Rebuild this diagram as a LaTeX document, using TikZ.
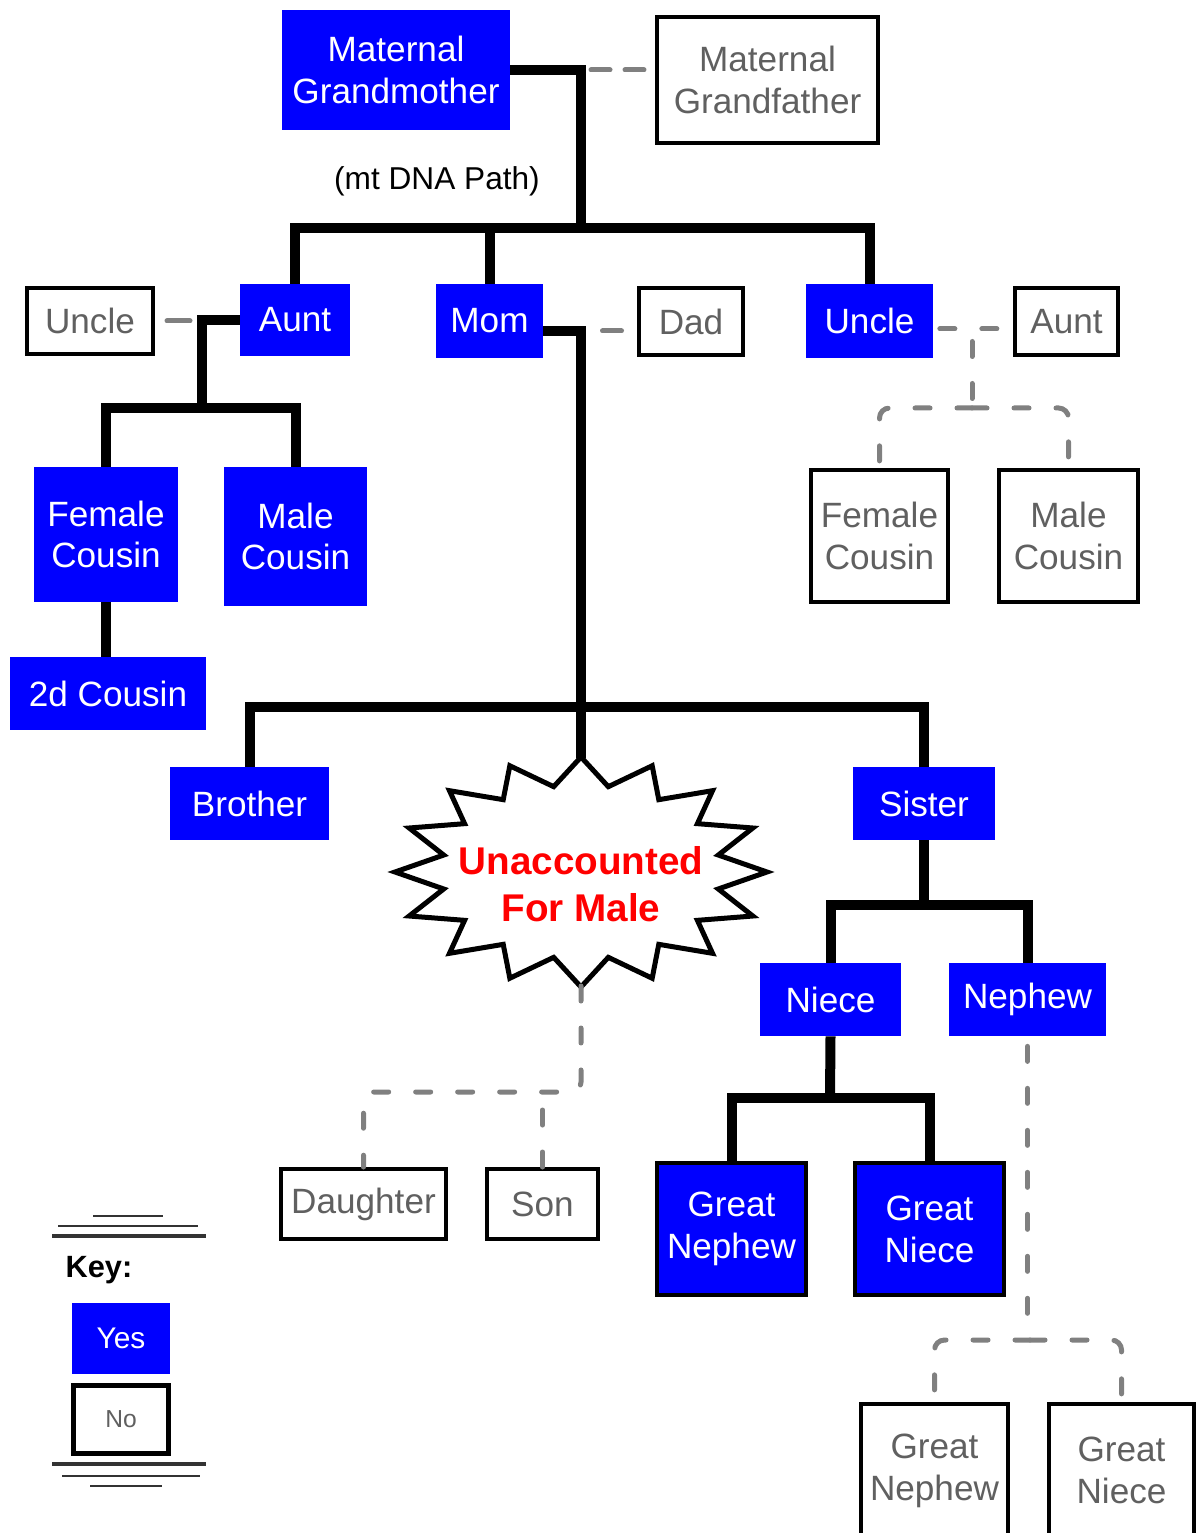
\documentclass[tikz,border=0pt]{standalone}
\usepackage{fontspec}
\setmainfont{Liberation Sans}
\usetikzlibrary{calc}
\definecolor{pureblue}{RGB}{0,0,255}
\definecolor{txtgray}{RGB}{96,96,96}
\definecolor{dashgray}{RGB}{128,128,128}
\definecolor{starred}{RGB}{255,0,0}
\newcommand\dgfont{\fontsize{20}{23.8}\selectfont}
\newcommand\bx[7]{\node[#1, minimum width={(#4-#2)*0.02cm}, minimum height={(#5-#3)*0.02cm}] (#6) at ({(#2+#4)/2},{(#3+#5)/2}) {#7};}
\tikzset{
  yes/.style={fill=pureblue, text=white},
  yesb/.style={yes, draw=black, line width=0.08cm},
  no/.style={fill=white, draw=black, line width=0.08cm, text=txtgray},
  conn/.style={line width=0.2cm, black, line join=miter},
  dashc/.style={line width=0.1cm, dashgray, line cap=round, dash pattern=on 0.3cm off 0.54cm},
  dashs/.style={line width=0.1cm, dashgray, line cap=round},
  starline/.style={line width=0.1cm, black, fill=white, line join=miter, miter limit=4},
  keyline/.style={black!80},
}
\begin{document}
\begin{tikzpicture}[x=0.02cm, y=-0.02cm, every node/.style={inner sep=0pt, align=center, font=\dgfont}]
\useasboundingbox (0,0) rectangle (1198,1533);
\fill[white] (0,0) rectangle (1198,1533);
\clip (0,0) rectangle (1198,1533);

% ---- coordinates
\coordinate (j1) at (581,228);
\coordinate (ja) at (202,408);
\coordinate (m1) at (581,331);
\coordinate (jm) at (581,707);
\coordinate (u1) at (972,329);
\coordinate (ju) at (972,408);
\coordinate (js) at (924,905);
\coordinate (jn) at (830,1098);
\coordinate (startop) at (581,758);
\coordinate (starbot) at (581,986);
\coordinate (jd) at (581,1092);
\coordinate (jp) at (1030,1340);

% ---- boxes
\bx{yes}{282}{10}{510}{130}{mgm}{Maternal\\Grandmother}
\bx{no}{657}{17}{878}{143}{mgf}{Maternal\\Grandfather}
\node[font=\fontsize{18}{21}\selectfont] (mtdna) at (437,181) {(mt DNA Path)};
\bx{no}{27}{288}{153}{354}{uncleL}{Uncle}
\bx{yes}{240}{284}{350}{356}{aunt}{Aunt}
\bx{yes}{436}{284}{543}{358}{mom}{Mom}
\bx{no}{639}{288}{743}{355}{dad}{Dad}
\bx{yes}{806}{284}{933}{358}{uncleR}{Uncle}
\bx{no}{1015}{288}{1118}{355}{auntR}{Aunt}
\bx{yes}{34}{467}{178}{602}{fcL}{Female\\Cousin}
\bx{yes}{224}{467}{367}{606}{mcL}{Male\\Cousin}
\bx{no}{811}{470}{948}{602}{fcR}{Female\\Cousin}
\bx{no}{999}{470}{1138}{602}{mcR}{Male\\Cousin}
\bx{yes}{10}{657}{206}{730}{cous2}{2d Cousin}
\bx{yes}{170}{767}{329}{840}{brother}{Brother}
\bx{yes}{853}{767}{995}{840}{sister}{Sister}
\bx{yes}{760}{963}{901}{1036}{niece}{Niece}
\bx{yes}{949}{963}{1106}{1036}{nephew}{Nephew}
\bx{no}{281}{1169}{446}{1239}{daughter}{Daughter}
\bx{no}{487}{1169}{598}{1239}{son}{Son}
\bx{yesb}{657}{1163}{806}{1295}{gnephB}{Great\\Nephew}
\bx{yesb}{855}{1163}{1004}{1295}{gnieceB}{Great\\Niece}
\bx{no}{861}{1404}{1008}{1537}{gnephW}{Great\\Nephew}
\bx{no}{1049}{1404}{1194}{1537}{gnieceW}{Great\\Niece}

% ---- star
\draw[starline] plot[samples at={0,...,31}, variable=\k]
  ({581+(163+23*cos(180*\k))*cos(90+11.25*\k)}, {872-(101+14*cos(180*\k))*sin(90+11.25*\k)}) -- cycle;
\node[text=starred, font=\fontsize{22}{26.6}\selectfont\bfseries] (unacc) at (581,884) {Unaccounted\\For Male};

% ---- solid connectors
\draw[conn] (mgm.east) -| (j1);
\draw[conn] (aunt.north) |- (j1) -| (uncleR.north);
\draw[conn] (mom.north) -- (mom.north |- j1);
\draw[conn] (aunt.west) -| (ja);
\draw[conn] (fcL.north) |- (ja) -| (mcL.north);
\draw[conn] (fcL.south) -- (fcL.south |- cous2.north);
\draw[conn] (m1 -| mom.east) -- (m1) -- (jm);
\draw[conn] (brother.north) |- (jm) -| (sister.north);
\draw[conn] (jm) -- (startop);
\draw[conn] (sister.south) -- (js);
\draw[conn] (niece.north) |- (js) -| (nephew.north);
\draw[conn] (niece.south) -- (jn);
\draw[conn] (gnephB.north) |- (jn) -| (gnieceB.north);

% ---- dashed connectors
\draw[dashs, dash pattern=on 0.38cm off 0.3cm, shorten <=0.2cm, shorten >=0.22cm] (mgm.east -| j1) -- (mgm.east -| mgf.west);
\draw[dashs, shorten <=0.24cm, shorten >=0.24cm] (uncleL.east) -- (uncleL.east -| ja);
\draw[dashs, shorten <=0.43cm, shorten >=0.31cm] (m1) -- (m1 -| dad.west);
\draw[dashc, shorten <=0.13cm, shorten >=0.15cm] (u1 -| uncleR.east) -- (u1 -| auntR.west);
\draw[dashc, shorten <=0.25cm] (u1) -- (ju);
\draw[dashc, rounded corners=0.2cm] (ju) -| (fcR.north);
\draw[dashc, rounded corners=0.2cm] (ju) -| (mcR.north);
\draw[dashc, rounded corners=0.2cm] (starbot) -- (jd) -| (daughter.north);
\draw[dashc] (son.north) -- (son.north |- jd);
\draw[dashc, shorten <=0.2cm] (nephew.south) -- (nephew.south |- jp);
\draw[dashc, rounded corners=0.2cm] (jp) -| (gnephW.north);
\draw[dashc, rounded corners=0.2cm] (jp) -| (gnieceW.north);

% ---- key
\draw[keyline, line width=0.05cm] (93,1216) -- (163,1216);
\draw[keyline, line width=0.05cm] (58,1226) -- (198,1226);
\draw[keyline, line width=0.08cm] (52,1236) -- (206,1236);
\node[font=\fontsize{17.5}{20}\selectfont\bfseries] (keylbl) at (99,1270) {Key:};
\bx{yes}{72}{1303}{170}{1374}{keyyes}{\fontsize{17}{20}\selectfont Yes}
\node[fill=white, draw=black, line width=0.1cm, text=txtgray, minimum width=1.9cm, minimum height=1.36cm, font=\fontsize{14}{17}\selectfont] (keyno) at (121,1419) {No};
\draw[keyline, line width=0.08cm] (52,1464) -- (206,1464);
\draw[keyline, line width=0.05cm] (62,1476) -- (200,1476);
\draw[keyline, line width=0.05cm] (90,1486) -- (162,1486);
\end{tikzpicture}
\end{document}
